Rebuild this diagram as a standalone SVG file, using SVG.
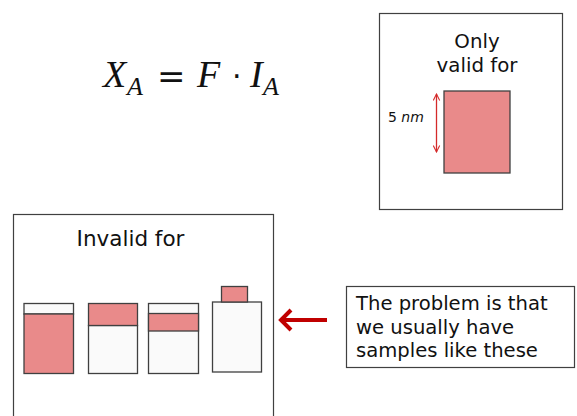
<svg xmlns="http://www.w3.org/2000/svg" width="577" height="416" viewBox="0 0 577 416">
<style>
.box{fill:#fff;stroke:#404040;stroke-width:1.2}
.sample{stroke:#404040;stroke-width:1.3}
.w{fill:#fafafa}
.p{fill:#e98a8a}
.t{font-family:"DejaVu Sans",Verdana,sans-serif;fill:#111}
.m{font-family:"Liberation Serif","DejaVu Serif",serif;font-style:italic;fill:#111}
.op{font-family:"DejaVu Sans",sans-serif;fill:#111}
</style>
<defs>
<marker id="chev" viewBox="0 0 10 10" refX="9" refY="5" markerWidth="8" markerHeight="8" orient="auto-start-reverse" markerUnits="userSpaceOnUse">
<path d="M1,1 L9,5 L1,9" fill="none" stroke="#d42a2a" stroke-width="1.3"/>
</marker>
</defs>
<rect width="577" height="416" fill="#fff"/>
<g id="formula">
<text class="m" x="103" y="87" font-size="38">X</text>
<text class="m" x="127" y="95" font-size="26">A</text>
<text class="op" x="157" y="88" font-size="34">=</text>
<text class="m" x="197" y="87" font-size="38">F</text>
<text class="op" x="232" y="87" font-size="30">·</text>
<text class="m" x="250" y="87" font-size="38">I</text>
<text class="m" x="263" y="95" font-size="26">A</text>
</g>
<g id="valid-box">
<rect class="box" x="379.5" y="13.5" width="183" height="196"/>
<text class="t" x="477" y="48" font-size="19.8" text-anchor="middle">Only</text>
<text class="t" x="477" y="72" font-size="19.8" text-anchor="middle">valid for</text>
<rect class="sample p" x="444" y="91" width="66" height="82"/>
<text class="t" x="388" y="122" font-size="14">5 <tspan font-style="italic">nm</tspan></text>
</g>
<g id="invalid-box">
<rect class="box" x="13.5" y="214.5" width="260" height="210"/>
<text class="t" x="130.5" y="246" font-size="21.5" text-anchor="middle">Invalid for</text>
</g>
<g id="sample1">
<rect class="sample w" x="24" y="303.5" width="49.5" height="10.5"/>
<rect class="sample p" x="24" y="314" width="49.5" height="59.5"/>
</g>
<g id="sample2">
<rect class="sample w" x="88.5" y="325.5" width="49" height="48"/>
<rect class="sample p" x="88.5" y="303.5" width="49" height="22"/>
</g>
<g id="sample3">
<rect class="sample w" x="148.5" y="303.5" width="50" height="70"/>
<rect class="sample p" x="148.5" y="313.5" width="50" height="17.5"/>
</g>
<g id="sample4">
<rect class="sample w" x="212.5" y="302" width="49" height="70"/>
<rect class="sample p" x="221.5" y="286.5" width="26" height="15.5"/>
</g>
<g id="text-box">
<rect class="box" x="346.5" y="286.5" width="228" height="81"/>
<text class="t" font-size="19.6"><tspan x="356" y="310">The problem is that</tspan><tspan x="356" y="334">we usually have</tspan><tspan x="356" y="357">samples like these</tspan></text>
</g>
<g id="connectors">
<line x1="436.5" y1="94" x2="436.5" y2="152" stroke="#d42a2a" stroke-width="1.3" marker-start="url(#chev)" marker-end="url(#chev)"/>
<line x1="327" y1="320" x2="282" y2="320" stroke="#c00000" stroke-width="4"/>
<path d="M291,310 L281,320 L291,330" fill="none" stroke="#c00000" stroke-width="4" stroke-linejoin="miter"/>
</g>
</svg>
